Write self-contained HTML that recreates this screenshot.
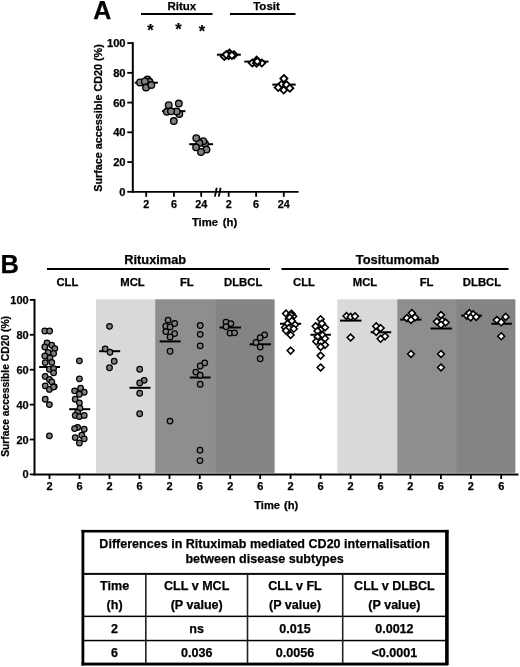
<!DOCTYPE html>
<html><head><meta charset="utf-8"><style>
html,body{margin:0;padding:0;background:#fff;}
body{width:520px;height:667px;position:relative;overflow:hidden;font-family:"Liberation Sans", sans-serif;}
svg{position:absolute;left:0;top:0;will-change:transform;filter:blur(0.3px);}
svg text{font-family:"Liberation Sans", sans-serif;fill:#000;stroke:#000;stroke-width:0.25px;}
</style></head><body>
<svg width="520" height="667" viewBox="0 0 520 667">
<text x="93.2" y="19.4" font-size="25" font-weight="bold">A</text>
<line x1="141" y1="13.9" x2="212.5" y2="13.9" stroke="#000" stroke-width="2"/>
<line x1="230" y1="13.9" x2="295.5" y2="13.9" stroke="#000" stroke-width="2"/>
<text x="181.8" y="9.6" font-size="11.5" font-weight="bold" text-anchor="middle">Ritux</text>
<text x="266.5" y="9.6" font-size="11.5" font-weight="bold" text-anchor="middle">Tosit</text>
<text x="150.4" y="35.6" font-size="16.5" font-weight="bold" text-anchor="middle">*</text>
<text x="178.4" y="35.2" font-size="16.5" font-weight="bold" text-anchor="middle">*</text>
<text x="202.0" y="36.5" font-size="16.5" font-weight="bold" text-anchor="middle">*</text>
<line x1="132.8" y1="42.1" x2="132.8" y2="192.8" stroke="#000" stroke-width="2"/>
<line x1="127.3" y1="191.80" x2="132.8" y2="191.80" stroke="#000" stroke-width="1.8"/>
<text x="125.6" y="195.90" font-size="11.2" font-weight="bold" text-anchor="end">0</text>
<line x1="127.3" y1="162.06" x2="132.8" y2="162.06" stroke="#000" stroke-width="1.8"/>
<text x="125.6" y="166.16" font-size="11.2" font-weight="bold" text-anchor="end">20</text>
<line x1="127.3" y1="132.32" x2="132.8" y2="132.32" stroke="#000" stroke-width="1.8"/>
<text x="125.6" y="136.42" font-size="11.2" font-weight="bold" text-anchor="end">40</text>
<line x1="127.3" y1="102.58" x2="132.8" y2="102.58" stroke="#000" stroke-width="1.8"/>
<text x="125.6" y="106.68" font-size="11.2" font-weight="bold" text-anchor="end">60</text>
<line x1="127.3" y1="72.84" x2="132.8" y2="72.84" stroke="#000" stroke-width="1.8"/>
<text x="125.6" y="76.94" font-size="11.2" font-weight="bold" text-anchor="end">80</text>
<line x1="127.3" y1="43.10" x2="132.8" y2="43.10" stroke="#000" stroke-width="1.8"/>
<text x="125.6" y="47.20" font-size="11.2" font-weight="bold" text-anchor="end">100</text>
<line x1="131.8" y1="191.80" x2="298.5" y2="191.80" stroke="#000" stroke-width="1.8"/>
<line x1="146.2" y1="191.80" x2="146.2" y2="196.8" stroke="#000" stroke-width="1.8"/>
<text x="146.2" y="207.8" font-size="10.8" font-weight="bold" text-anchor="middle">2</text>
<line x1="173.9" y1="191.80" x2="173.9" y2="196.8" stroke="#000" stroke-width="1.8"/>
<text x="173.9" y="207.8" font-size="10.8" font-weight="bold" text-anchor="middle">6</text>
<line x1="201.2" y1="191.80" x2="201.2" y2="196.8" stroke="#000" stroke-width="1.8"/>
<text x="201.2" y="207.8" font-size="10.8" font-weight="bold" text-anchor="middle">24</text>
<line x1="228.7" y1="191.80" x2="228.7" y2="196.8" stroke="#000" stroke-width="1.8"/>
<text x="228.7" y="207.8" font-size="10.8" font-weight="bold" text-anchor="middle">2</text>
<line x1="256.1" y1="191.80" x2="256.1" y2="196.8" stroke="#000" stroke-width="1.8"/>
<text x="256.1" y="207.8" font-size="10.8" font-weight="bold" text-anchor="middle">6</text>
<line x1="283.8" y1="191.80" x2="283.8" y2="196.8" stroke="#000" stroke-width="1.8"/>
<text x="283.8" y="207.8" font-size="10.8" font-weight="bold" text-anchor="middle">24</text>
<line x1="216.7" y1="187.8" x2="214.9" y2="196.6" stroke="#000" stroke-width="1.8"/>
<line x1="220.6" y1="187.8" x2="218.8" y2="196.6" stroke="#000" stroke-width="1.8"/>
<text x="214.6" y="225.6" font-size="11.3" font-weight="bold" text-anchor="middle" word-spacing="1.6">Time (h)</text>
<text transform="translate(101.7,118) rotate(-90)" x="0" y="0" font-size="10.8" font-weight="bold" text-anchor="middle">Surface accessible CD20 (%)</text>
<line x1="134.8" y1="82.7" x2="157.9" y2="82.7" stroke="#000" stroke-width="2"/>
<line x1="162" y1="111.15" x2="185.4" y2="111.15" stroke="#000" stroke-width="2"/>
<line x1="189.2" y1="144.2" x2="213.1" y2="144.2" stroke="#000" stroke-width="2"/>
<circle cx="147.5" cy="79.6" r="3.3" fill="#7f7f7f" stroke="#000" stroke-width="1.35"/>
<circle cx="149.5" cy="81.8" r="3.3" fill="#7f7f7f" stroke="#000" stroke-width="1.35"/>
<circle cx="140.0" cy="82.4" r="3.3" fill="#7f7f7f" stroke="#000" stroke-width="1.35"/>
<circle cx="144.8" cy="81.4" r="3.3" fill="#7f7f7f" stroke="#000" stroke-width="1.35"/>
<circle cx="146.0" cy="87.5" r="3.3" fill="#7f7f7f" stroke="#000" stroke-width="1.35"/>
<circle cx="151.3" cy="85.0" r="3.3" fill="#7f7f7f" stroke="#000" stroke-width="1.35"/>
<circle cx="166.9" cy="111.8" r="3.3" fill="#7f7f7f" stroke="#000" stroke-width="1.35"/>
<circle cx="179.3" cy="113.9" r="3.3" fill="#7f7f7f" stroke="#000" stroke-width="1.35"/>
<circle cx="176.7" cy="111.5" r="3.3" fill="#7f7f7f" stroke="#000" stroke-width="1.35"/>
<circle cx="168.7" cy="105.2" r="3.3" fill="#7f7f7f" stroke="#000" stroke-width="1.35"/>
<circle cx="178.8" cy="103.5" r="3.3" fill="#7f7f7f" stroke="#000" stroke-width="1.35"/>
<circle cx="171.0" cy="111.3" r="3.3" fill="#7f7f7f" stroke="#000" stroke-width="1.35"/>
<circle cx="173.8" cy="121.1" r="3.3" fill="#7f7f7f" stroke="#000" stroke-width="1.35"/>
<circle cx="205.0" cy="143.8" r="3.3" fill="#7f7f7f" stroke="#000" stroke-width="1.35"/>
<circle cx="203.3" cy="141.2" r="3.3" fill="#7f7f7f" stroke="#000" stroke-width="1.35"/>
<circle cx="199.3" cy="143.0" r="3.3" fill="#7f7f7f" stroke="#000" stroke-width="1.35"/>
<circle cx="196.3" cy="138.1" r="3.3" fill="#7f7f7f" stroke="#000" stroke-width="1.35"/>
<circle cx="196.1" cy="147.3" r="3.3" fill="#7f7f7f" stroke="#000" stroke-width="1.35"/>
<circle cx="206.5" cy="149.6" r="3.3" fill="#7f7f7f" stroke="#000" stroke-width="1.35"/>
<circle cx="201.0" cy="151.9" r="3.3" fill="#7f7f7f" stroke="#000" stroke-width="1.35"/>
<line x1="216.9" y1="54.7" x2="240.8" y2="54.7" stroke="#000" stroke-width="2"/>
<line x1="244.3" y1="61.6" x2="268.5" y2="61.6" stroke="#000" stroke-width="2"/>
<line x1="272.3" y1="84.6" x2="295.7" y2="84.6" stroke="#000" stroke-width="2"/>
<path d="M234.0 51.2L237.6 54.8L234.0 58.4L230.4 54.8Z" fill="#fff" stroke="#000" stroke-width="1.8"/>
<path d="M224.3 52.8L227.9 56.4L224.3 60.0L220.7 56.4Z" fill="#fff" stroke="#000" stroke-width="1.8"/>
<path d="M229.4 49.5L233.0 53.1L229.4 56.7L225.8 53.1Z" fill="#fff" stroke="#000" stroke-width="1.8"/>
<path d="M228.6 52.0L232.2 55.6L228.6 59.2L225.0 55.6Z" fill="#fff" stroke="#000" stroke-width="1.8"/>
<path d="M226.3 51.1L229.9 54.7L226.3 58.3L222.7 54.7Z" fill="#fff" stroke="#000" stroke-width="1.8"/>
<path d="M231.9 51.7L235.5 55.3L231.9 58.9L228.3 55.3Z" fill="#fff" stroke="#000" stroke-width="1.8"/>
<path d="M252.3 59.4L255.9 63.0L252.3 66.6L248.7 63.0Z" fill="#fff" stroke="#000" stroke-width="1.8"/>
<path d="M261.8 59.4L265.4 63.0L261.8 66.6L258.2 63.0Z" fill="#fff" stroke="#000" stroke-width="1.8"/>
<path d="M256.7 56.6L260.3 60.2L256.7 63.8L253.1 60.2Z" fill="#fff" stroke="#000" stroke-width="1.8"/>
<path d="M256.5 59.6L260.1 63.2L256.5 66.8L252.9 63.2Z" fill="#fff" stroke="#000" stroke-width="1.8"/>
<path d="M257.3 57.8L260.9 61.4L257.3 65.0L253.7 61.4Z" fill="#fff" stroke="#000" stroke-width="1.8"/>
<path d="M283.9 75.0L287.5 78.6L283.9 82.2L280.3 78.6Z" fill="#fff" stroke="#000" stroke-width="1.8"/>
<path d="M281.4 80.9L285.0 84.5L281.4 88.1L277.8 84.5Z" fill="#fff" stroke="#000" stroke-width="1.8"/>
<path d="M286.5 81.2L290.1 84.8L286.5 88.4L282.9 84.8Z" fill="#fff" stroke="#000" stroke-width="1.8"/>
<path d="M278.2 83.9L281.8 87.5L278.2 91.1L274.6 87.5Z" fill="#fff" stroke="#000" stroke-width="1.8"/>
<path d="M283.7 86.4L287.3 90.0L283.7 93.6L280.1 90.0Z" fill="#fff" stroke="#000" stroke-width="1.8"/>
<path d="M289.8 84.6L293.4 88.2L289.8 91.8L286.2 88.2Z" fill="#fff" stroke="#000" stroke-width="1.8"/>
<rect x="96" y="299.3" width="59.80" height="173.6" fill="#d9d9d9"/>
<rect x="155.2" y="299.3" width="61.00" height="173.6" fill="#8e8e8e"/>
<rect x="215.6" y="299.3" width="59.00" height="173.6" fill="#848484"/>
<rect x="337.3" y="299.3" width="60.60" height="173.6" fill="#d9d9d9"/>
<rect x="397.3" y="299.3" width="60.10" height="173.6" fill="#8e8e8e"/>
<rect x="456.8" y="299.3" width="58.60" height="173.6" fill="#848484"/>
<text x="0.6" y="273" font-size="25.5" font-weight="bold">B</text>
<line x1="47" y1="269.1" x2="270" y2="269.1" stroke="#000" stroke-width="2"/>
<line x1="281.5" y1="269.1" x2="508.5" y2="269.1" stroke="#000" stroke-width="2"/>
<text x="155.2" y="264" font-size="12.8" font-weight="bold" text-anchor="middle">Rituximab</text>
<text x="397.6" y="264.1" font-size="12.9" font-weight="bold" text-anchor="middle">Tositumomab</text>
<text x="67.4" y="286.1" font-size="11.3" font-weight="bold" text-anchor="middle">CLL</text>
<text x="132.5" y="286.1" font-size="11.3" font-weight="bold" text-anchor="middle">MCL</text>
<text x="186.8" y="286.1" font-size="11.3" font-weight="bold" text-anchor="middle">FL</text>
<text x="243.2" y="286.1" font-size="11.3" font-weight="bold" text-anchor="middle">DLBCL</text>
<text x="304" y="286.1" font-size="11.3" font-weight="bold" text-anchor="middle">CLL</text>
<text x="365" y="286.1" font-size="11.3" font-weight="bold" text-anchor="middle">MCL</text>
<text x="426.6" y="286.1" font-size="11.3" font-weight="bold" text-anchor="middle">FL</text>
<text x="482" y="286.1" font-size="11.3" font-weight="bold" text-anchor="middle">DLBCL</text>
<line x1="34.5" y1="298.9" x2="34.5" y2="475.4" stroke="#000" stroke-width="2"/>
<line x1="29.8" y1="474.40" x2="34.5" y2="474.40" stroke="#000" stroke-width="1.8"/>
<text x="28.7" y="478.40" font-size="11" font-weight="bold" text-anchor="end">0</text>
<line x1="29.8" y1="439.50" x2="34.5" y2="439.50" stroke="#000" stroke-width="1.8"/>
<text x="28.7" y="443.50" font-size="11" font-weight="bold" text-anchor="end">20</text>
<line x1="29.8" y1="404.60" x2="34.5" y2="404.60" stroke="#000" stroke-width="1.8"/>
<text x="28.7" y="408.60" font-size="11" font-weight="bold" text-anchor="end">40</text>
<line x1="29.8" y1="369.70" x2="34.5" y2="369.70" stroke="#000" stroke-width="1.8"/>
<text x="28.7" y="373.70" font-size="11" font-weight="bold" text-anchor="end">60</text>
<line x1="29.8" y1="334.80" x2="34.5" y2="334.80" stroke="#000" stroke-width="1.8"/>
<text x="28.7" y="338.80" font-size="11" font-weight="bold" text-anchor="end">80</text>
<line x1="29.8" y1="299.90" x2="34.5" y2="299.90" stroke="#000" stroke-width="1.8"/>
<text x="28.7" y="303.90" font-size="11" font-weight="bold" text-anchor="end">100</text>
<line x1="33.5" y1="474.40" x2="518.5" y2="474.40" stroke="#000" stroke-width="2"/>
<line x1="49.5" y1="474.40" x2="49.5" y2="479" stroke="#000" stroke-width="1.8"/>
<text x="49.5" y="490.2" font-size="11" font-weight="bold" text-anchor="middle">2</text>
<line x1="79.5" y1="474.40" x2="79.5" y2="479" stroke="#000" stroke-width="1.8"/>
<text x="79.5" y="490.2" font-size="11" font-weight="bold" text-anchor="middle">6</text>
<line x1="109.5" y1="474.40" x2="109.5" y2="479" stroke="#000" stroke-width="1.8"/>
<text x="109.5" y="490.2" font-size="11" font-weight="bold" text-anchor="middle">2</text>
<line x1="139.5" y1="474.40" x2="139.5" y2="479" stroke="#000" stroke-width="1.8"/>
<text x="139.5" y="490.2" font-size="11" font-weight="bold" text-anchor="middle">6</text>
<line x1="169.5" y1="474.40" x2="169.5" y2="479" stroke="#000" stroke-width="1.8"/>
<text x="169.5" y="490.2" font-size="11" font-weight="bold" text-anchor="middle">2</text>
<line x1="199.8" y1="474.40" x2="199.8" y2="479" stroke="#000" stroke-width="1.8"/>
<text x="199.8" y="490.2" font-size="11" font-weight="bold" text-anchor="middle">6</text>
<line x1="230.2" y1="474.40" x2="230.2" y2="479" stroke="#000" stroke-width="1.8"/>
<text x="230.2" y="490.2" font-size="11" font-weight="bold" text-anchor="middle">2</text>
<line x1="260.2" y1="474.40" x2="260.2" y2="479" stroke="#000" stroke-width="1.8"/>
<text x="260.2" y="490.2" font-size="11" font-weight="bold" text-anchor="middle">6</text>
<line x1="290.6" y1="474.40" x2="290.6" y2="479" stroke="#000" stroke-width="1.8"/>
<text x="290.6" y="490.2" font-size="11" font-weight="bold" text-anchor="middle">2</text>
<line x1="320.6" y1="474.40" x2="320.6" y2="479" stroke="#000" stroke-width="1.8"/>
<text x="320.6" y="490.2" font-size="11" font-weight="bold" text-anchor="middle">6</text>
<line x1="350.6" y1="474.40" x2="350.6" y2="479" stroke="#000" stroke-width="1.8"/>
<text x="350.6" y="490.2" font-size="11" font-weight="bold" text-anchor="middle">2</text>
<line x1="380.6" y1="474.40" x2="380.6" y2="479" stroke="#000" stroke-width="1.8"/>
<text x="380.6" y="490.2" font-size="11" font-weight="bold" text-anchor="middle">6</text>
<line x1="410.4" y1="474.40" x2="410.4" y2="479" stroke="#000" stroke-width="1.8"/>
<text x="410.4" y="490.2" font-size="11" font-weight="bold" text-anchor="middle">2</text>
<line x1="440.9" y1="474.40" x2="440.9" y2="479" stroke="#000" stroke-width="1.8"/>
<text x="440.9" y="490.2" font-size="11" font-weight="bold" text-anchor="middle">6</text>
<line x1="470.9" y1="474.40" x2="470.9" y2="479" stroke="#000" stroke-width="1.8"/>
<text x="470.9" y="490.2" font-size="11" font-weight="bold" text-anchor="middle">2</text>
<line x1="501.2" y1="474.40" x2="501.2" y2="479" stroke="#000" stroke-width="1.8"/>
<text x="501.2" y="490.2" font-size="11" font-weight="bold" text-anchor="middle">6</text>
<text x="276.2" y="509.0" font-size="11.1" font-weight="bold" text-anchor="middle" word-spacing="1">Time (h)</text>
<text transform="translate(9.2,386.4) rotate(-90)" font-size="10.3" font-weight="bold" text-anchor="middle">Surface accessible CD20 (%)</text>
<line x1="39.2" y1="367" x2="60" y2="367" stroke="#000" stroke-width="2"/>
<line x1="69.2" y1="409.2" x2="90.2" y2="409.2" stroke="#000" stroke-width="2"/>
<line x1="99.2" y1="351.2" x2="120.2" y2="351.2" stroke="#000" stroke-width="2"/>
<line x1="129.5" y1="387.8" x2="150.5" y2="387.8" stroke="#000" stroke-width="2"/>
<line x1="159.7" y1="341.4" x2="180.6" y2="341.4" stroke="#000" stroke-width="2"/>
<line x1="189.8" y1="377.5" x2="210.6" y2="377.5" stroke="#000" stroke-width="2"/>
<line x1="219.6" y1="327.5" x2="241" y2="327.5" stroke="#000" stroke-width="2"/>
<line x1="249.6" y1="344.3" x2="271" y2="344.3" stroke="#000" stroke-width="2"/>
<circle cx="44.8" cy="331.0" r="2.8" fill="#7f7f7f" stroke="#000" stroke-width="1.25"/>
<circle cx="49.6" cy="331.0" r="2.8" fill="#7f7f7f" stroke="#000" stroke-width="1.25"/>
<circle cx="47.0" cy="343.0" r="2.8" fill="#7f7f7f" stroke="#000" stroke-width="1.25"/>
<circle cx="51.8" cy="345.2" r="2.8" fill="#7f7f7f" stroke="#000" stroke-width="1.25"/>
<circle cx="44.8" cy="347.0" r="2.8" fill="#7f7f7f" stroke="#000" stroke-width="1.25"/>
<circle cx="54.8" cy="348.6" r="2.8" fill="#7f7f7f" stroke="#000" stroke-width="1.25"/>
<circle cx="48.2" cy="352.4" r="2.8" fill="#7f7f7f" stroke="#000" stroke-width="1.25"/>
<circle cx="53.6" cy="353.4" r="2.8" fill="#7f7f7f" stroke="#000" stroke-width="1.25"/>
<circle cx="44.8" cy="356.0" r="2.8" fill="#7f7f7f" stroke="#000" stroke-width="1.25"/>
<circle cx="50.0" cy="357.8" r="2.8" fill="#7f7f7f" stroke="#000" stroke-width="1.25"/>
<circle cx="45.2" cy="362.6" r="2.8" fill="#7f7f7f" stroke="#000" stroke-width="1.25"/>
<circle cx="51.8" cy="362.3" r="2.8" fill="#7f7f7f" stroke="#000" stroke-width="1.25"/>
<circle cx="49.4" cy="369.2" r="2.8" fill="#7f7f7f" stroke="#000" stroke-width="1.25"/>
<circle cx="53.6" cy="368.6" r="2.8" fill="#7f7f7f" stroke="#000" stroke-width="1.25"/>
<circle cx="53.6" cy="372.8" r="2.8" fill="#7f7f7f" stroke="#000" stroke-width="1.25"/>
<circle cx="45.2" cy="376.4" r="2.8" fill="#7f7f7f" stroke="#000" stroke-width="1.25"/>
<circle cx="49.4" cy="379.4" r="2.8" fill="#7f7f7f" stroke="#000" stroke-width="1.25"/>
<circle cx="51.8" cy="381.8" r="2.8" fill="#7f7f7f" stroke="#000" stroke-width="1.25"/>
<circle cx="45.2" cy="385.8" r="2.8" fill="#7f7f7f" stroke="#000" stroke-width="1.25"/>
<circle cx="54.2" cy="386.6" r="2.8" fill="#7f7f7f" stroke="#000" stroke-width="1.25"/>
<circle cx="49.4" cy="389.4" r="2.8" fill="#7f7f7f" stroke="#000" stroke-width="1.25"/>
<circle cx="53.6" cy="387.0" r="2.8" fill="#7f7f7f" stroke="#000" stroke-width="1.25"/>
<circle cx="45.2" cy="399.2" r="2.8" fill="#7f7f7f" stroke="#000" stroke-width="1.25"/>
<circle cx="49.4" cy="404.6" r="2.8" fill="#7f7f7f" stroke="#000" stroke-width="1.25"/>
<circle cx="49.4" cy="435.8" r="2.8" fill="#7f7f7f" stroke="#000" stroke-width="1.25"/>
<circle cx="79.4" cy="360.8" r="2.8" fill="#7f7f7f" stroke="#000" stroke-width="1.25"/>
<circle cx="79.4" cy="378.8" r="2.8" fill="#7f7f7f" stroke="#000" stroke-width="1.25"/>
<circle cx="80.6" cy="388.2" r="2.8" fill="#7f7f7f" stroke="#000" stroke-width="1.25"/>
<circle cx="74.6" cy="390.8" r="2.8" fill="#7f7f7f" stroke="#000" stroke-width="1.25"/>
<circle cx="84.2" cy="392.2" r="2.8" fill="#7f7f7f" stroke="#000" stroke-width="1.25"/>
<circle cx="79.4" cy="394.2" r="2.8" fill="#7f7f7f" stroke="#000" stroke-width="1.25"/>
<circle cx="75.2" cy="399.2" r="2.8" fill="#7f7f7f" stroke="#000" stroke-width="1.25"/>
<circle cx="79.4" cy="402.8" r="2.8" fill="#7f7f7f" stroke="#000" stroke-width="1.25"/>
<circle cx="80.0" cy="408.2" r="2.8" fill="#7f7f7f" stroke="#000" stroke-width="1.25"/>
<circle cx="77.6" cy="412.4" r="2.8" fill="#7f7f7f" stroke="#000" stroke-width="1.25"/>
<circle cx="75.2" cy="415.4" r="2.8" fill="#7f7f7f" stroke="#000" stroke-width="1.25"/>
<circle cx="79.4" cy="416.6" r="2.8" fill="#7f7f7f" stroke="#000" stroke-width="1.25"/>
<circle cx="84.2" cy="415.4" r="2.8" fill="#7f7f7f" stroke="#000" stroke-width="1.25"/>
<circle cx="77.6" cy="427.4" r="2.8" fill="#7f7f7f" stroke="#000" stroke-width="1.25"/>
<circle cx="74.6" cy="428.6" r="2.8" fill="#7f7f7f" stroke="#000" stroke-width="1.25"/>
<circle cx="84.2" cy="429.2" r="2.8" fill="#7f7f7f" stroke="#000" stroke-width="1.25"/>
<circle cx="81.8" cy="435.2" r="2.8" fill="#7f7f7f" stroke="#000" stroke-width="1.25"/>
<circle cx="75.2" cy="437.6" r="2.8" fill="#7f7f7f" stroke="#000" stroke-width="1.25"/>
<circle cx="84.2" cy="438.8" r="2.8" fill="#7f7f7f" stroke="#000" stroke-width="1.25"/>
<circle cx="79.4" cy="443.0" r="2.8" fill="#7f7f7f" stroke="#000" stroke-width="1.25"/>
<circle cx="109.5" cy="326.3" r="2.8" fill="#7f7f7f" stroke="#000" stroke-width="1.25"/>
<circle cx="105.2" cy="348.8" r="2.8" fill="#7f7f7f" stroke="#000" stroke-width="1.25"/>
<circle cx="110.0" cy="352.2" r="2.8" fill="#7f7f7f" stroke="#000" stroke-width="1.25"/>
<circle cx="114.2" cy="361.2" r="2.8" fill="#7f7f7f" stroke="#000" stroke-width="1.25"/>
<circle cx="109.5" cy="367.7" r="2.8" fill="#7f7f7f" stroke="#000" stroke-width="1.25"/>
<circle cx="139.7" cy="369.2" r="2.8" fill="#7f7f7f" stroke="#000" stroke-width="1.25"/>
<circle cx="144.2" cy="380.3" r="2.8" fill="#7f7f7f" stroke="#000" stroke-width="1.25"/>
<circle cx="139.7" cy="383.0" r="2.8" fill="#7f7f7f" stroke="#000" stroke-width="1.25"/>
<circle cx="139.7" cy="393.2" r="2.8" fill="#7f7f7f" stroke="#000" stroke-width="1.25"/>
<circle cx="139.7" cy="413.7" r="2.8" fill="#7f7f7f" stroke="#000" stroke-width="1.25"/>
<circle cx="168.1" cy="320.1" r="2.8" fill="#7f7f7f" stroke="#000" stroke-width="1.25"/>
<circle cx="174.6" cy="323.5" r="2.8" fill="#7f7f7f" stroke="#000" stroke-width="1.25"/>
<circle cx="165.8" cy="326.2" r="2.8" fill="#7f7f7f" stroke="#000" stroke-width="1.25"/>
<circle cx="170.1" cy="326.9" r="2.8" fill="#7f7f7f" stroke="#000" stroke-width="1.25"/>
<circle cx="165.8" cy="331.6" r="2.8" fill="#7f7f7f" stroke="#000" stroke-width="1.25"/>
<circle cx="174.6" cy="333.6" r="2.8" fill="#7f7f7f" stroke="#000" stroke-width="1.25"/>
<circle cx="170.1" cy="337.0" r="2.8" fill="#7f7f7f" stroke="#000" stroke-width="1.25"/>
<circle cx="170.1" cy="351.2" r="2.8" fill="#7f7f7f" stroke="#000" stroke-width="1.25"/>
<circle cx="170.0" cy="421.1" r="2.8" fill="#7f7f7f" stroke="#000" stroke-width="1.25"/>
<circle cx="200.2" cy="325.5" r="2.8" fill="#7f7f7f" stroke="#000" stroke-width="1.25"/>
<circle cx="200.2" cy="334.3" r="2.8" fill="#7f7f7f" stroke="#000" stroke-width="1.25"/>
<circle cx="200.2" cy="345.8" r="2.8" fill="#7f7f7f" stroke="#000" stroke-width="1.25"/>
<circle cx="204.7" cy="362.9" r="2.8" fill="#7f7f7f" stroke="#000" stroke-width="1.25"/>
<circle cx="200.2" cy="366.0" r="2.8" fill="#7f7f7f" stroke="#000" stroke-width="1.25"/>
<circle cx="195.8" cy="372.1" r="2.8" fill="#7f7f7f" stroke="#000" stroke-width="1.25"/>
<circle cx="200.2" cy="375.2" r="2.8" fill="#7f7f7f" stroke="#000" stroke-width="1.25"/>
<circle cx="200.2" cy="384.2" r="2.8" fill="#7f7f7f" stroke="#000" stroke-width="1.25"/>
<circle cx="200.0" cy="450.2" r="2.8" fill="#7f7f7f" stroke="#000" stroke-width="1.25"/>
<circle cx="200.0" cy="460.6" r="2.8" fill="#7f7f7f" stroke="#000" stroke-width="1.25"/>
<circle cx="226.0" cy="322.1" r="2.8" fill="#7f7f7f" stroke="#000" stroke-width="1.25"/>
<circle cx="230.9" cy="323.6" r="2.8" fill="#7f7f7f" stroke="#000" stroke-width="1.25"/>
<circle cx="226.0" cy="326.7" r="2.8" fill="#7f7f7f" stroke="#000" stroke-width="1.25"/>
<circle cx="230.0" cy="333.1" r="2.8" fill="#7f7f7f" stroke="#000" stroke-width="1.25"/>
<circle cx="234.6" cy="332.8" r="2.8" fill="#7f7f7f" stroke="#000" stroke-width="1.25"/>
<circle cx="264.6" cy="334.8" r="2.8" fill="#7f7f7f" stroke="#000" stroke-width="1.25"/>
<circle cx="260.2" cy="337.7" r="2.8" fill="#7f7f7f" stroke="#000" stroke-width="1.25"/>
<circle cx="256.0" cy="342.5" r="2.8" fill="#7f7f7f" stroke="#000" stroke-width="1.25"/>
<circle cx="260.2" cy="347.1" r="2.8" fill="#7f7f7f" stroke="#000" stroke-width="1.25"/>
<circle cx="260.2" cy="358.7" r="2.8" fill="#7f7f7f" stroke="#000" stroke-width="1.25"/>
<line x1="280" y1="323.75" x2="301.2" y2="323.75" stroke="#000" stroke-width="2"/>
<line x1="310.4" y1="334.75" x2="330.9" y2="334.75" stroke="#000" stroke-width="2"/>
<line x1="340" y1="320.6" x2="361.5" y2="320.6" stroke="#000" stroke-width="2"/>
<line x1="370.6" y1="332.25" x2="391.2" y2="332.25" stroke="#000" stroke-width="2"/>
<line x1="400.2" y1="319.6" x2="421.5" y2="319.6" stroke="#000" stroke-width="2"/>
<line x1="430.6" y1="328.5" x2="451.9" y2="328.5" stroke="#000" stroke-width="2"/>
<line x1="461" y1="315.6" x2="481.9" y2="315.6" stroke="#000" stroke-width="2"/>
<line x1="491.25" y1="323.75" x2="511.9" y2="323.75" stroke="#000" stroke-width="2"/>
<path d="M286.0 310.1L289.4 313.5L286.0 316.9L282.6 313.5Z" fill="#fff" stroke="#000" stroke-width="1.55"/>
<path d="M291.5 310.4L294.9 313.8L291.5 317.2L288.1 313.8Z" fill="#fff" stroke="#000" stroke-width="1.55"/>
<path d="M293.2 312.9L296.6 316.3L293.2 319.8L289.8 316.3Z" fill="#fff" stroke="#000" stroke-width="1.55"/>
<path d="M290.6 311.6L294.1 315.0L290.6 318.4L287.2 315.0Z" fill="#fff" stroke="#000" stroke-width="1.55"/>
<path d="M288.8 315.6L292.2 319.0L288.8 322.4L285.4 319.0Z" fill="#fff" stroke="#000" stroke-width="1.55"/>
<path d="M289.8 314.1L293.2 317.5L289.8 320.9L286.4 317.5Z" fill="#fff" stroke="#000" stroke-width="1.55"/>
<path d="M291.9 317.6L295.3 321.0L291.9 324.4L288.4 321.0Z" fill="#fff" stroke="#000" stroke-width="1.55"/>
<path d="M287.5 320.4L290.9 323.8L287.5 327.2L284.1 323.8Z" fill="#fff" stroke="#000" stroke-width="1.55"/>
<path d="M295.0 321.4L298.4 324.8L295.0 328.2L291.6 324.8Z" fill="#fff" stroke="#000" stroke-width="1.55"/>
<path d="M285.0 324.1L288.4 327.5L285.0 330.9L281.6 327.5Z" fill="#fff" stroke="#000" stroke-width="1.55"/>
<path d="M288.8 324.7L292.2 328.1L288.8 331.6L285.4 328.1Z" fill="#fff" stroke="#000" stroke-width="1.55"/>
<path d="M293.8 325.4L297.2 328.8L293.8 332.2L290.4 328.8Z" fill="#fff" stroke="#000" stroke-width="1.55"/>
<path d="M286.0 327.2L289.4 330.6L286.0 334.1L282.6 330.6Z" fill="#fff" stroke="#000" stroke-width="1.55"/>
<path d="M290.6 331.6L294.1 335.0L290.6 338.4L287.2 335.0Z" fill="#fff" stroke="#000" stroke-width="1.55"/>
<path d="M290.6 347.2L294.1 350.6L290.6 354.1L287.2 350.6Z" fill="#fff" stroke="#000" stroke-width="1.55"/>
<path d="M320.6 315.8L324.1 319.2L320.6 322.6L317.2 319.2Z" fill="#fff" stroke="#000" stroke-width="1.55"/>
<path d="M321.9 320.1L325.3 323.5L321.9 326.9L318.4 323.5Z" fill="#fff" stroke="#000" stroke-width="1.55"/>
<path d="M315.6 322.9L319.1 326.3L315.6 329.8L312.2 326.3Z" fill="#fff" stroke="#000" stroke-width="1.55"/>
<path d="M325.0 324.1L328.4 327.5L325.0 330.9L321.6 327.5Z" fill="#fff" stroke="#000" stroke-width="1.55"/>
<path d="M320.6 326.6L324.1 330.0L320.6 333.4L317.2 330.0Z" fill="#fff" stroke="#000" stroke-width="1.55"/>
<path d="M317.5 327.6L320.9 331.0L317.5 334.4L314.1 331.0Z" fill="#fff" stroke="#000" stroke-width="1.55"/>
<path d="M322.5 331.6L325.9 335.0L322.5 338.4L319.1 335.0Z" fill="#fff" stroke="#000" stroke-width="1.55"/>
<path d="M317.5 333.4L320.9 336.9L317.5 340.3L314.1 336.9Z" fill="#fff" stroke="#000" stroke-width="1.55"/>
<path d="M325.0 335.1L328.4 338.5L325.0 341.9L321.6 338.5Z" fill="#fff" stroke="#000" stroke-width="1.55"/>
<path d="M316.2 338.1L319.6 341.5L316.2 344.9L312.8 341.5Z" fill="#fff" stroke="#000" stroke-width="1.55"/>
<path d="M321.0 338.6L324.4 342.0L321.0 345.4L317.6 342.0Z" fill="#fff" stroke="#000" stroke-width="1.55"/>
<path d="M325.0 341.6L328.4 345.0L325.0 348.4L321.6 345.0Z" fill="#fff" stroke="#000" stroke-width="1.55"/>
<path d="M320.6 343.4L324.1 346.9L320.6 350.3L317.2 346.9Z" fill="#fff" stroke="#000" stroke-width="1.55"/>
<path d="M320.6 352.2L324.1 355.6L320.6 359.1L317.2 355.6Z" fill="#fff" stroke="#000" stroke-width="1.55"/>
<path d="M320.6 364.1L324.1 367.5L320.6 370.9L317.2 367.5Z" fill="#fff" stroke="#000" stroke-width="1.55"/>
<path d="M346.5 312.6L349.9 316.0L346.5 319.4L343.1 316.0Z" fill="#fff" stroke="#000" stroke-width="1.55"/>
<path d="M350.6 313.4L354.1 316.9L350.6 320.3L347.2 316.9Z" fill="#fff" stroke="#000" stroke-width="1.55"/>
<path d="M355.0 312.9L358.4 316.3L355.0 319.8L351.6 316.3Z" fill="#fff" stroke="#000" stroke-width="1.55"/>
<path d="M350.6 334.1L354.1 337.5L350.6 340.9L347.2 337.5Z" fill="#fff" stroke="#000" stroke-width="1.55"/>
<path d="M376.2 322.9L379.6 326.3L376.2 329.8L372.8 326.3Z" fill="#fff" stroke="#000" stroke-width="1.55"/>
<path d="M380.6 324.7L384.1 328.1L380.6 331.6L377.2 328.1Z" fill="#fff" stroke="#000" stroke-width="1.55"/>
<path d="M376.2 328.4L379.6 331.9L376.2 335.3L372.8 331.9Z" fill="#fff" stroke="#000" stroke-width="1.55"/>
<path d="M385.0 332.9L388.4 336.3L385.0 339.8L381.6 336.3Z" fill="#fff" stroke="#000" stroke-width="1.55"/>
<path d="M380.6 335.4L384.1 338.8L380.6 342.2L377.2 338.8Z" fill="#fff" stroke="#000" stroke-width="1.55"/>
<path d="M411.9 309.7L415.3 313.1L411.9 316.6L408.4 313.1Z" fill="#fff" stroke="#000" stroke-width="1.55"/>
<path d="M406.9 314.7L410.3 318.1L406.9 321.6L403.4 318.1Z" fill="#fff" stroke="#000" stroke-width="1.55"/>
<path d="M415.0 314.1L418.4 317.5L415.0 320.9L411.6 317.5Z" fill="#fff" stroke="#000" stroke-width="1.55"/>
<path d="M411.0 316.6L414.4 320.0L411.0 323.4L407.6 320.0Z" fill="#fff" stroke="#000" stroke-width="1.55"/>
<path d="M411.0 350.6L414.4 354.0L411.0 357.4L407.6 354.0Z" fill="#fff" stroke="#000" stroke-width="1.55"/>
<path d="M441.0 311.6L444.4 315.0L441.0 318.4L437.6 315.0Z" fill="#fff" stroke="#000" stroke-width="1.55"/>
<path d="M436.9 318.1L440.3 321.5L436.9 324.9L433.4 321.5Z" fill="#fff" stroke="#000" stroke-width="1.55"/>
<path d="M442.2 317.2L445.6 320.6L442.2 324.1L438.8 320.6Z" fill="#fff" stroke="#000" stroke-width="1.55"/>
<path d="M445.6 319.1L449.1 322.5L445.6 325.9L442.2 322.5Z" fill="#fff" stroke="#000" stroke-width="1.55"/>
<path d="M441.0 321.3L444.4 324.8L441.0 328.2L437.6 324.8Z" fill="#fff" stroke="#000" stroke-width="1.55"/>
<path d="M441.0 350.6L444.4 354.0L441.0 357.4L437.6 354.0Z" fill="#fff" stroke="#000" stroke-width="1.55"/>
<path d="M441.0 364.1L444.4 367.5L441.0 370.9L437.6 367.5Z" fill="#fff" stroke="#000" stroke-width="1.55"/>
<path d="M466.9 312.2L470.3 315.6L466.9 319.1L463.4 315.6Z" fill="#fff" stroke="#000" stroke-width="1.55"/>
<path d="M469.4 309.7L472.8 313.1L469.4 316.6L465.9 313.1Z" fill="#fff" stroke="#000" stroke-width="1.55"/>
<path d="M473.1 310.9L476.6 314.4L473.1 317.8L469.7 314.4Z" fill="#fff" stroke="#000" stroke-width="1.55"/>
<path d="M470.6 314.1L474.1 317.5L470.6 320.9L467.2 317.5Z" fill="#fff" stroke="#000" stroke-width="1.55"/>
<path d="M476.2 313.4L479.7 316.9L476.2 320.3L472.8 316.9Z" fill="#fff" stroke="#000" stroke-width="1.55"/>
<path d="M505.6 313.4L509.1 316.9L505.6 320.3L502.2 316.9Z" fill="#fff" stroke="#000" stroke-width="1.55"/>
<path d="M496.9 316.6L500.3 320.0L496.9 323.4L493.4 320.0Z" fill="#fff" stroke="#000" stroke-width="1.55"/>
<path d="M501.2 318.8L504.7 322.2L501.2 325.7L497.8 322.2Z" fill="#fff" stroke="#000" stroke-width="1.55"/>
<path d="M501.2 332.8L504.7 336.2L501.2 339.7L497.8 336.2Z" fill="#fff" stroke="#000" stroke-width="1.55"/>
<rect x="81.5" y="529.9" width="2.8" height="135.6" fill="#000"/>
<rect x="81.5" y="529.9" width="366.8" height="2.6" fill="#000"/>
<rect x="445.1" y="529.9" width="3.6" height="135.2" fill="#000"/>
<rect x="81.5" y="662.6" width="366.5" height="2.9" fill="#000"/>
<rect x="84" y="572.9" width="361.5" height="2" fill="#0a0a0a"/>
<rect x="84" y="615.6" width="361.5" height="1.5" fill="#000"/>
<rect x="84" y="639.8" width="361.5" height="1.5" fill="#000"/>
<rect x="145.0" y="574" width="1.6" height="89" fill="#222"/>
<rect x="246.7" y="574" width="1.6" height="89" fill="#222"/>
<rect x="341.9" y="574" width="1.6" height="89" fill="#222"/>
<text x="264.6" y="547.8" font-size="12.55" font-weight="bold" text-anchor="middle">Differences in Rituximab mediated CD20 internalisation</text>
<text x="264.6" y="562.8" font-size="12.55" font-weight="bold" text-anchor="middle">between disease subtypes</text>
<text x="114.6" y="590.4" font-size="12.55" font-weight="bold" text-anchor="middle">Time</text>
<text x="114.6" y="608.5" font-size="12.55" font-weight="bold" text-anchor="middle">(h)</text>
<text x="196.7" y="590.4" font-size="12.55" font-weight="bold" text-anchor="middle">CLL v MCL</text>
<text x="196.7" y="608.5" font-size="12.55" font-weight="bold" text-anchor="middle">(P value)</text>
<text x="295.0" y="590.4" font-size="12.55" font-weight="bold" text-anchor="middle">CLL v FL</text>
<text x="295.0" y="608.5" font-size="12.55" font-weight="bold" text-anchor="middle">(P value)</text>
<text x="394.4" y="590.4" font-size="12.55" font-weight="bold" text-anchor="middle">CLL v DLBCL</text>
<text x="394.4" y="608.5" font-size="12.55" font-weight="bold" text-anchor="middle">(P value)</text>
<text x="114.6" y="633.2" font-size="12.55" font-weight="bold" text-anchor="middle">2</text>
<text x="114.6" y="657.2" font-size="12.55" font-weight="bold" text-anchor="middle">6</text>
<text x="196.7" y="633.2" font-size="12.55" font-weight="bold" text-anchor="middle">ns</text>
<text x="196.7" y="657.2" font-size="12.55" font-weight="bold" text-anchor="middle">0.036</text>
<text x="295.0" y="633.2" font-size="12.55" font-weight="bold" text-anchor="middle">0.015</text>
<text x="295.0" y="657.2" font-size="12.55" font-weight="bold" text-anchor="middle">0.0056</text>
<text x="394.4" y="633.2" font-size="12.55" font-weight="bold" text-anchor="middle">0.0012</text>
<text x="394.4" y="657.2" font-size="12.55" font-weight="bold" text-anchor="middle">&lt;0.0001</text>
</svg>

</body></html>
